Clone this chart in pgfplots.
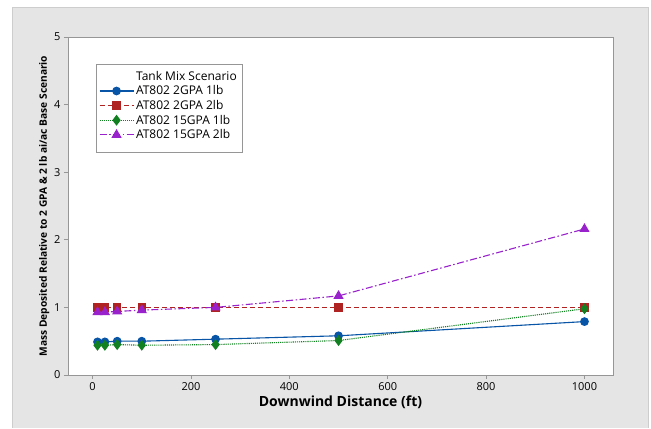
\documentclass[border=0pt]{standalone}
\usepackage{pgfplots}
\pgfplotsset{compat=1.18}
\usepackage{fontspec}
\setmainfont{Open Sans}
\definecolor{mblue}{RGB}{8,84,166}
\definecolor{mred}{RGB}{175,35,35}
\definecolor{mgreen}{RGB}{16,128,32}
\definecolor{mpurple}{RGB}{153,34,204}
\definecolor{bggray}{RGB}{229,229,229}
\definecolor{edgegray}{RGB}{205,205,205}
\definecolor{axgray}{RGB}{150,150,150}
\begin{document}
\begin{tikzpicture}[x=1pt,y=1pt]
\fill[white] (0,0) rectangle (651,428);
\fill[bggray] (12,0) rectangle (648,421);
\draw[edgegray,line width=0.8pt] (12,0) -- (12,421) -- (648,421) -- (648,0);
\begin{axis}[
  at={(68pt,53pt)}, anchor=south west,
  width=545pt, height=338pt, scale only axis,
  axis background/.style={fill=white},
  axis line style={axgray, line width=0.8pt},
  xmin=-50, xmax=1058, ymin=0, ymax=5,
  xtick={0,200,400,600,800,1000},
  ytick={0,1,2,3,4,5},
  tick align=outside, tick pos=left,
  major tick length=4pt,
  tick style={axgray, line width=0.6pt},
  /pgf/number format/assume math mode=true,
  /pgf/number format/1000 sep={},
  tick label style={font=\fontsize{11}{13}\selectfont, text=black},
  xlabel={\bfseries Downwind Distance (ft)},
  xlabel style={font=\fontsize{14}{16}\selectfont, yshift=2pt},
  ylabel={\bfseries Mass Deposited Relative to 2 GPA \& 2 lb ai/ac Base Scenario},
  ylabel style={font=\fontsize{10.2}{12}\selectfont, yshift=-2pt},
  legend style={at={(0.051,0.919)}, anchor=north west, draw=axgray,
    font=\fontsize{12}{14.7}\selectfont, inner xsep=3pt, inner ysep=4.5pt,
    row sep=0pt},
  legend cell align=left,
  legend image code/.code={\draw[mark repeat=2,mark phase=2] plot coordinates {(0pt,0pt) (17pt,0pt) (34pt,0pt)};},
]
\addlegendimage{empty legend}
\addlegendentry{Tank Mix Scenario}
\addplot[mblue, line width=1.1pt, solid, mark=*, mark size=3.8pt, mark options={solid, fill=mblue}]
  coordinates {(10,0.49) (25,0.49) (50,0.50) (100,0.50) (250,0.53) (500,0.58) (1000,0.79)};
\addlegendentry{AT802 2GPA 1lb}
\addplot[mred, line width=1.1pt, dash pattern=on 5pt off 3pt, mark=square*, mark size=3.6pt, mark options={solid, fill=mred}]
  coordinates {(10,1.0) (25,1.0) (50,1.0) (100,1.0) (250,1.0) (500,1.0) (1000,1.0)};
\addlegendentry{AT802 2GPA 2lb}
\addplot[mgreen, line width=1.1pt, densely dotted, mark=diamond*, mark size=4.6pt, mark options={solid, fill=mgreen}]
  coordinates {(10,0.44) (25,0.44) (50,0.45) (100,0.44) (250,0.45) (500,0.51) (1000,0.98)};
\addlegendentry{AT802 15GPA 1lb}
\addplot[mpurple, line width=1.1pt, dash pattern=on 7pt off 2.5pt on 1.5pt off 2.5pt, mark=triangle*, mark size=4.8pt, mark options={solid, fill=mpurple}]
  coordinates {(10,0.93) (25,0.93) (50,0.94) (100,0.96) (250,1.00) (500,1.17) (1000,2.16)};
\addlegendentry{AT802 15GPA 2lb}
\addlegendimage{empty legend}
\addlegendentry{}
\end{axis}
\end{tikzpicture}
\end{document}
